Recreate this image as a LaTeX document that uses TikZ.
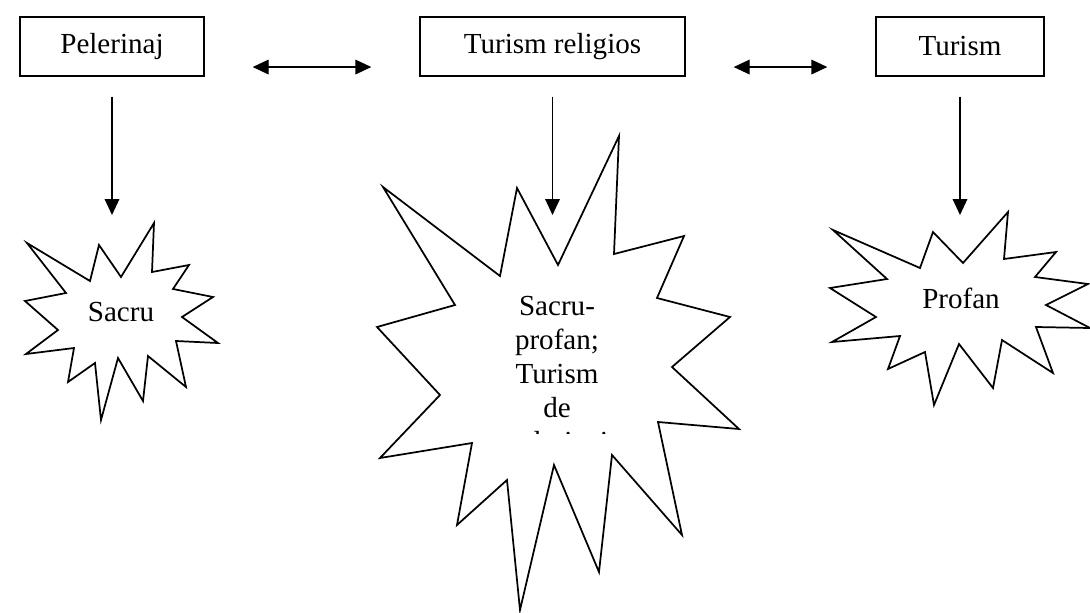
\documentclass[tikz,border=0pt]{standalone}
\usepackage{fontspec}
\setmainfont{Liberation Serif}
\usetikzlibrary{arrows.meta}

\begin{document}
\begin{tikzpicture}[x=0.75pt,y=0.75pt,yscale=-1,xscale=1,
    every node/.style={font=\fontsize{21.8}{25.5}\selectfont},
    termbox/.style={draw,line width=1pt,inner sep=0pt,minimum height=44.25pt},
    burst/.style={line width=1.3pt,line join=miter},
    arr/.style={line width=1pt,-{Triangle[length=12pt,width=11pt]},shorten <=15pt},
    dblarr/.style={line width=1pt,{Triangle[length=12pt,width=11pt]}-{Triangle[length=12pt,width=11pt]},shorten <=36pt,shorten >=36pt}]
        \useasboundingbox (0,0) rectangle (1090,612);
        % Text Node
        \node[termbox,minimum width=138pt] (pel) at (112,46.5) {Pelerinaj};
        % Text Node
        \node[termbox,minimum width=198.75pt] (rel) at (552.5,46.5) {Turism religios};
        % Text Node
        \node[termbox,minimum width=126pt] (tur) at (960,46.5) {Turism};
        %Shape: Star [id:sacru]
        \draw[burst] (154,223) -- (152,272) -- (189,265) -- (173,289) -- (213,297) -- (182,317) -- (218,343) -- (176,341) -- (186,387) -- (148,356) -- (143,401) -- (118,358) -- (101,420) -- (95,363) -- (68,382) -- (74,348) -- (26,354) -- (58,330) -- (25,301) -- (66,293) -- (27,243) -- (90,281) -- (99,245) -- (121,277) -- cycle;
        %Shape: Star [id:sacruprofan]
        \draw[burst] (619,136) -- (614,254) -- (684,236) -- (657,298) -- (730,317) -- (672,367) -- (739,429) -- (658,422) -- (682,535) -- (612,455) -- (599,572) -- (554,465) -- (520,610) -- (507,480) -- (457,525) -- (472,443) -- (380,458) -- (440,395) -- (377,327) -- (455,305) -- (383,187) -- (500,276) -- (517,188) -- (558,265) -- cycle;
        %Shape: Star [id:profan]
        \draw[burst] (1008,212) -- (1004,259) -- (1056,252) -- (1035,277) -- (1088,284) -- (1046,305) -- (1090,328) -- (1036,327) -- (1053,373) -- (1002,340) -- (993,388) -- (959,344) -- (934,405) -- (925,352) -- (888,369) -- (900,336) -- (832,342) -- (876,317) -- (830,288) -- (887,279) -- (833,230) -- (920,268) -- (933,232) -- (963,263) -- cycle;
        % Text Node
        \node (sacru) at (121,312) {Sacru};
        % Text Node
        \node (profan) at (961,298) {Profan};
        % Text Node, last line cut by its frame
        \begin{scope}
            \clip (440,280) rectangle (680,433);
            \node[align=center,inner sep=0pt] (sacruprofan) at (557,377) {Sacru-\\profan;\\Turism\\de\\pelerinaj};
        \end{scope}
        \coordinate (sacru-top) at (112,215);
        \coordinate (sacruprofan-top) at (552.5,215);
        \coordinate (profan-top) at (960,215);
        %Straight Lines
        \draw[dblarr] ([yshift=15.4pt]pel.east) -- ([yshift=15.4pt]rel.west);
        \draw[dblarr] ([yshift=15.4pt]rel.east) -- ([yshift=15.4pt]tur.west);
        %Straight Lines
        \draw[arr] (pel.south) -- (sacru-top);
        \draw[arr] (rel.south) -- (sacruprofan-top);
        \draw[arr] (tur.south) -- (profan-top);
\end{tikzpicture}
\end{document}
